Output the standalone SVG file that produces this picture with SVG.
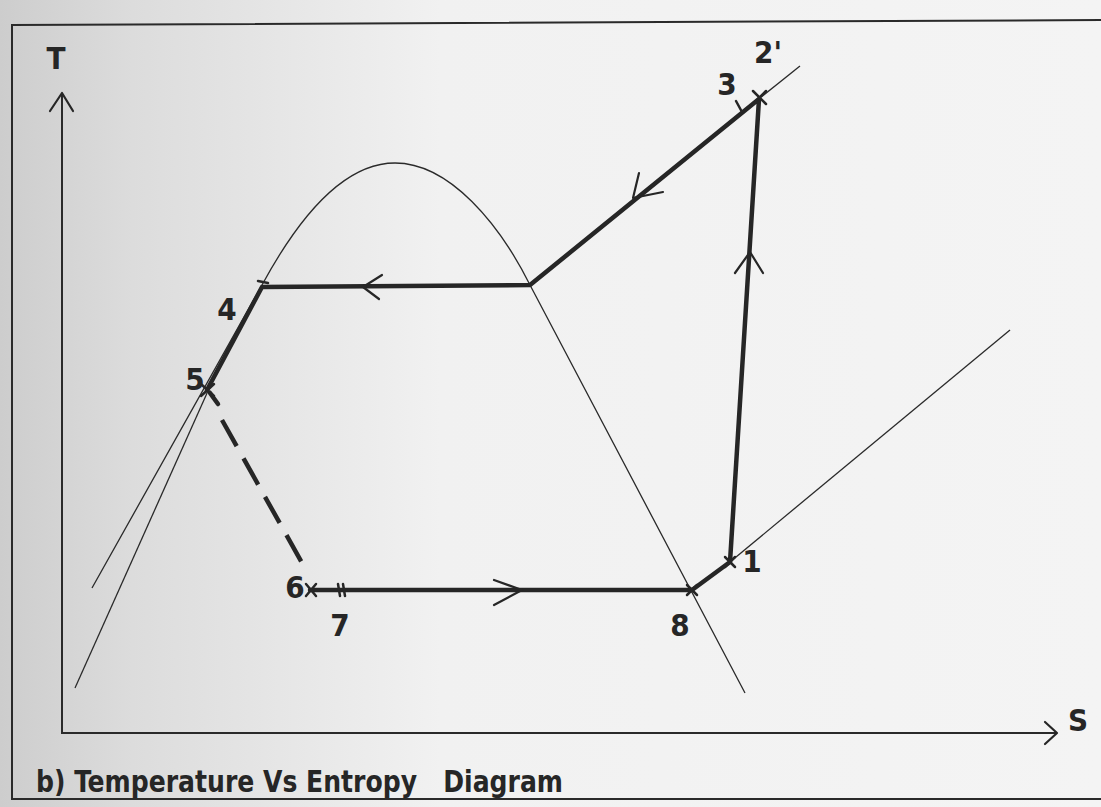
<svg xmlns="http://www.w3.org/2000/svg" width="1101" height="807" viewBox="0 0 1101 807">
  <defs>
    <linearGradient id="bg" x1="0" y1="0" x2="1" y2="0">
      <stop offset="0" stop-color="#cdcdcd"/>
      <stop offset="0.12" stop-color="#dcdcdc"/>
      <stop offset="0.4" stop-color="#f1f1f1"/>
      <stop offset="1" stop-color="#f4f4f4"/>
    </linearGradient>
    <style>
      .thin { fill: none; stroke: #2a2a2a; stroke-width: 1.3; }
      .thick { fill: none; stroke: #262626; stroke-width: 4.5; stroke-linejoin: round; stroke-linecap: round; }
      .dash { fill: none; stroke: #262626; stroke-width: 4.5; stroke-dasharray: 30 14; }
      .axis { fill: none; stroke: #2a2a2a; stroke-width: 2; }
      .head { fill: none; stroke: #262626; stroke-width: 2.2; stroke-linecap: round; stroke-linejoin: round; }
      .mark { fill: none; stroke: #262626; stroke-width: 2.5; stroke-linecap: round; }
      .lbl { font-family: "Liberation Sans Narrow", "DejaVu Sans Condensed", "Liberation Sans", sans-serif; font-stretch: condensed; font-weight: bold; font-size: 31px; fill: #262626; text-anchor: middle; }
      .cap { font-family: "Liberation Sans Narrow", "DejaVu Sans Condensed", "Liberation Sans", sans-serif; font-stretch: condensed; font-weight: bold; font-size: 30px; fill: #262626; }
    </style>
  </defs>
  <rect x="0" y="0" width="1101" height="807" fill="url(#bg)"/>
  <!-- frame -->
  <path class="axis" d="M 12,800 L 12,25 L 1101,20" />
  <path class="axis" d="M 12,799 L 1101,799" />

  <g id="axes">
    <path class="axis" d="M 62,93 L 62,733 L 1057,733"/>
    <path class="head" d="M 50,111 L 62,93 L 73,111"/>
    <path class="head" d="M 1045,722 L 1057,733 L 1045,744"/>
  </g>

  <g id="curves">
    <path class="thin" d="M 92,588 L 262,285 C 300,215 345,163 395,163 C 450,163 500,225 530,285 L 745,693"/>
    <path class="thin" d="M 75,688 L 212,382"/>
    <path class="thin" d="M 760,98 L 800,66"/>
    <path class="thin" d="M 730,562 L 1010,330"/>
  </g>

  <g id="connectors">
    <path class="thick" d="M 692,590 L 730,562 L 759,99 L 530,285 L 262,287 L 207,390"/>
    <path class="thick" d="M 310,590 L 692,590"/>
    <path class="dash" d="M 222,420 L 306,570"/>
    <path class="thick" d="M 210,393 L 218,404"/>
    <path class="head" d="M 382,275 L 363,287 L 379,299"/>
    <path class="head" d="M 494,580 L 522,590 L 494,605"/>
    <path class="head" d="M 735,273 L 750,252 L 763,273"/>
    <path class="head" d="M 639,173 L 633,198 L 663,192"/>
  </g>

  <g id="markers">
    <path class="mark" d="M 753,91 L 766,104 M 766,91 L 753,104"/>
    <path class="mark" d="M 736,101 L 742,112"/>
    <path class="mark" d="M 258,281 L 268,283"/>
    <path class="mark" d="M 201,384 L 214,396 M 214,384 L 201,396"/>
    <path class="mark" d="M 306,584 L 316,596 M 316,584 L 306,596"/>
    <path class="mark" d="M 338,584 L 340,596 M 343,584 L 345,596"/>
    <path class="mark" d="M 687,585 L 697,595 M 697,585 L 687,595"/>
    <path class="mark" d="M 725,557 L 735,567 M 735,557 L 725,567"/>
  </g>

  <g id="labels">
    <text class="lbl" x="56" y="69">T</text>
    <text class="lbl" x="1078" y="731">S</text>
    <text class="lbl" x="768" y="63">2'</text>
    <text class="lbl" x="727" y="95">3</text>
    <text class="lbl" x="227" y="320">4</text>
    <text class="lbl" x="195" y="390">5</text>
    <text class="lbl" x="295" y="598">6</text>
    <text class="lbl" x="340" y="636">7</text>
    <text class="lbl" x="680" y="636">8</text>
    <text class="lbl" x="752" y="572">1</text>
    <text class="cap" x="36" y="792" textLength="527" lengthAdjust="spacingAndGlyphs">b) Temperature Vs Entropy&#160;&#160;&#160;Diagram</text>
  </g>
</svg>
